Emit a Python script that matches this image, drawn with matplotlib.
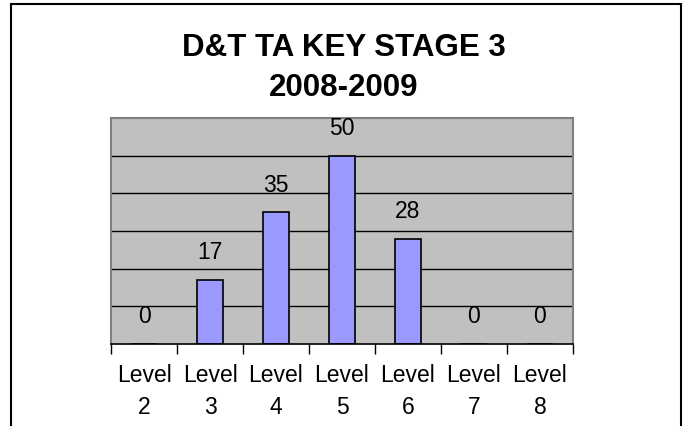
import numpy as np
import matplotlib
matplotlib.use("Agg")
import matplotlib.pyplot as plt
from matplotlib.patches import Rectangle

plt.rcParams['font.family'] = ['Liberation Sans', 'DejaVu Sans']

levels = ["Level\n2", "Level\n3", "Level\n4", "Level\n5", "Level\n6", "Level\n7", "Level\n8"]
counts = [0, 17, 35, 50, 28, 0, 0]
title = "D&T TA KEY STAGE 3\n2008-2009"

fig = plt.figure(figsize=(6.87, 4.27), dpi=100)
ax = fig.add_axes([0.1616, 0.192, 0.6724, 0.5293])

x = np.arange(len(counts))
ax.set_facecolor('#C0C0C0')
ax.bar(x, counts, width=0.4, color='#9999FF', edgecolor='black', linewidth=1.2, zorder=3)
ax.set_ylim(0, 60)
ax.set_xlim(-0.5, len(counts) - 0.5)
ax.set_yticks(np.arange(10, 60, 10))
ax.yaxis.grid(True, color='black', linewidth=1.0)
ax.tick_params(axis='y', left=False, labelleft=False)

ax.set_xticks(x)
ax.set_xticklabels(levels, fontsize=16.5, linespacing=1.45)
ax.tick_params(axis='x', which='major', length=0, pad=14)
ax.set_xticks(np.arange(-0.5, len(counts), 1), minor=True)
ax.tick_params(axis='x', which='minor', length=7, width=1, color='black')

for s in ['left', 'right', 'top']:
    ax.spines[s].set_color('#808080')
    ax.spines[s].set_linewidth(1.5)
ax.spines['bottom'].set_color('black')
ax.spines['bottom'].set_linewidth(1.2)
ax.spines['bottom'].set_zorder(4)

for xi, v in zip(x, counts):
    ax.annotate(str(v), (xi, v), xytext=(0, 12), textcoords='offset points',
                ha='center', va='bottom', fontsize=16.5)

fig.text(0.5, 0.84, title, ha='center', va='center', fontsize=22.5,
         fontweight='bold', linespacing=1.45)

fig.patches.append(Rectangle((11 / 687, -0.05), 670 / 687, 1 - 5 / 427 + 0.05,
                             transform=fig.transFigure, fill=False,
                             edgecolor='black', linewidth=1.5, clip_on=False))

fig.savefig('out.png', dpi=100)
